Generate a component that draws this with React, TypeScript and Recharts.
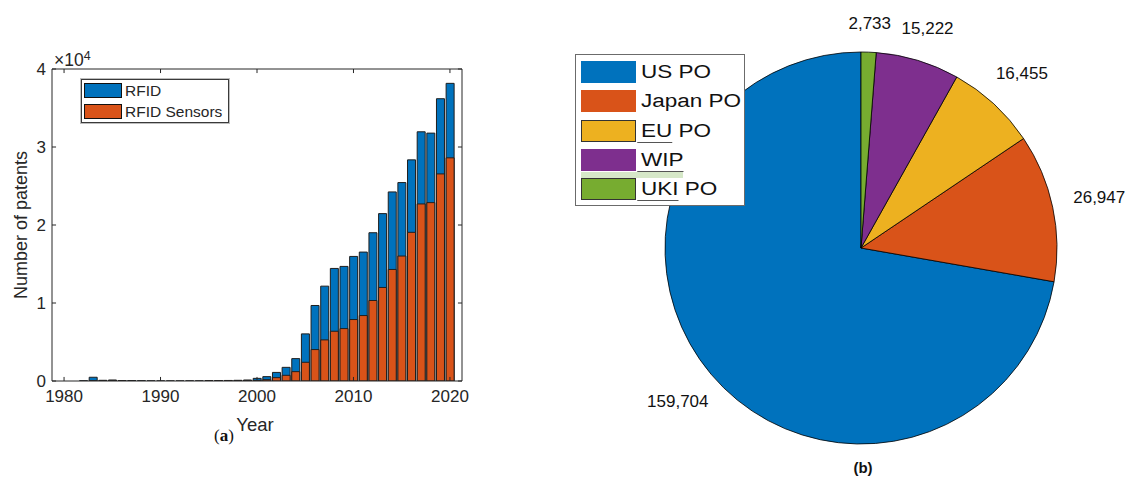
import React from 'react';
import { BarChart, Bar, XAxis, YAxis, Legend, Label, ReferenceLine, PieChart, Pie, Cell } from 'recharts';

const FONT = '"Liberation Sans", Arial, Helvetica, sans-serif';

// (a) yearly patent counts
const years = [
  1980, 1981, 1982, 1983, 1984, 1985, 1986, 1987, 1988, 1989,
  1990, 1991, 1992, 1993, 1994, 1995, 1996, 1997, 1998, 1999,
  2000, 2001, 2002, 2003, 2004, 2005, 2006, 2007, 2008, 2009,
  2010, 2011, 2012, 2013, 2014, 2015, 2016, 2017, 2018, 2019, 2020,
];
const rfid = [
  0, 0, 30, 480, 90, 130, 60, 50, 40, 20,
  10, 10, 10, 20, 20, 40, 60, 70, 90, 130,
  340, 560, 1100, 1750, 2870, 6040, 9680, 12160, 14430, 14690,
  15970, 16530, 19010, 21460, 24240, 25440, 28350, 31950, 31780, 36190, 38160,
];
const rfidSensors = [
  0, 0, 0, 20, 10, 20, 10, 10, 0, 0,
  0, 0, 0, 0, 0, 10, 10, 20, 20, 30,
  80, 170, 430, 730, 1200, 2400, 4030, 5270, 6380, 6720,
  7880, 8390, 10320, 11990, 14300, 16020, 19060, 22700, 22870, 26550, 28610,
];
const yearTicks = [1980, 1990, 2000, 2010, 2020];
const countTicks = [0, 10000, 20000, 30000, 40000];

// (b) patents per office
const offices = ['US PO', 'Japan PO', 'EU PO', 'WIP', 'UKI PO'];
const officePatents = [159704, 26947, 16455, 15222, 2733];
const officeColors = ['#0072BD', '#D95319', '#EDB120', '#7E2F8E', '#77AC30'];
const swatchBordered = [false, false, true, false, true];
const firstWordUnderlined = [false, false, true, true, true];

const barData = years.map((year, i) => ({ year, rfid: rfid[i], sensors: rfidSensors[i] }));
const pieData = offices.map((name, i) => ({ name, value: officePatents[i] }));

const X_MIN = 1978.75;
const X_MAX = 2021.25;
const Y_MIN = 0;
const Y_MAX = 40000;
// inward tick length (~4px) expressed in axis units
const TICK_X = 0.42;
const TICK_Y = 520;
const keepOrder = () => 0;
const AXIS = '#262626';

const BarLegend = ({ payload }: any) => (
  <div
    style={{
      width: 146,
      height: 42,
      border: '1px solid #3a3a3a',
      boxShadow: '0 0 0 1px #bdbdbd',
      background: '#fff',
      fontFamily: FONT,
      fontSize: 15.5,
      color: '#262626',
    }}
  >
    {(payload || []).map((p: any, i: number) => (
      <div key={i} style={{ display: 'flex', alignItems: 'center', height: 21 }}>
        <span
          style={{
            display: 'inline-block',
            width: 36,
            height: 13,
            background: p.color,
            border: '1px solid #111',
            marginLeft: 2,
            marginRight: 3,
          }}
        />
        <span>{p.value}</span>
      </div>
    ))}
  </div>
);

const PieLegend = ({ payload }: any) => (
  <div
    style={{
      position: 'relative',
      width: 168,
      height: 150,
      border: '1px solid #6b6b6b',
      background: '#fff',
      fontFamily: FONT,
      fontSize: 18,
      color: '#111',
    }}
  >
    {(payload || []).map((p: any, i: number) => {
      const top = 6 + i * 29.25;
      const words = String(p.value).split(' ');
      return (
        <React.Fragment key={i}>
          <div
            style={{
              position: 'absolute',
              left: 5,
              top,
              width: 55,
              height: 22,
              boxSizing: 'border-box',
              background: p.color,
              border: swatchBordered[i] ? '1px solid #333' : 'none',
            }}
          />
          {i === 3 && (
            <div style={{ position: 'absolute', left: 5, top: top + 23, width: 102, height: 6, background: '#d6e8c8' }} />
          )}
          <div
            style={{
              position: 'absolute',
              left: 65,
              top,
              height: 22,
              lineHeight: '22px',
              whiteSpace: 'nowrap',
              transform: 'scaleX(1.25)',
              transformOrigin: 'left center',
            }}
          >
            {firstWordUnderlined[i] ? (
              <>
                <span
                  style={{
                    display: 'inline-block',
                    marginLeft: -3,
                    paddingLeft: 3,
                    borderBottom: '1.5px solid #555',
                    lineHeight: '21px',
                  }}
                >
                  {words[0]}
                </span>
                {words.length > 1 ? ' ' + words.slice(1).join(' ') : ''}
              </>
            ) : (
              p.value
            )}
          </div>
        </React.Fragment>
      );
    })}
  </div>
);

const renderPieLabel = (props: any) => {
  const { cx, cy, midAngle, outerRadius, value } = props;
  const rad = (-midAngle * Math.PI) / 180;
  const r = outerRadius + 28 + 20 * Math.abs(Math.cos(rad));
  const x = cx + r * Math.cos(rad);
  const y = cy + r * Math.sin(rad);
  return (
    <text x={x} y={y} textAnchor="middle" dominantBaseline="central" fontFamily={FONT} fontSize={17} fill="#111">
      {Number(value).toLocaleString('en-US')}
    </text>
  );
};

const axisText = { fontSize: 17, fill: AXIS, fontFamily: FONT };

export default function App() {
  return (
    <div style={{ position: 'absolute', left: 0, top: 0, width: 1126, height: 479, background: '#fff' }}>
      <div style={{ position: 'absolute', left: 0, top: 0 }}>
        <BarChart
          width={480}
          height={479}
          data={barData}
          margin={{ top: 69, right: 18, bottom: 68, left: 12 }}
        >
          <XAxis
            xAxisId="x"
            dataKey="year"
            type="number"
            domain={[X_MIN, X_MAX]}
            ticks={yearTicks}
            allowDataOverflow
            height={30}
            tickLine={false}
            tickSize={0}
            tickMargin={9}
            axisLine={{ stroke: AXIS }}
            tick={axisText}
          >
            <Label
              content={(p: any) => {
                const vb = p.viewBox || {};
                return (
                  <text x={vb.x + vb.width / 2 - 2} y={vb.y + 50} textAnchor="middle" fontFamily={FONT} fontSize={18.5} fill={AXIS}>
                    Year
                  </text>
                );
              }}
            />
          </XAxis>
          <XAxis xAxisId="x2" dataKey="year" type="number" domain={[X_MIN, X_MAX]} allowDataOverflow hide />
          <YAxis
            yAxisId="y"
            type="number"
            domain={[Y_MIN, Y_MAX]}
            ticks={countTicks}
            allowDataOverflow
            width={40}
            tickLine={false}
            tickSize={0}
            tickMargin={6}
            axisLine={{ stroke: AXIS }}
            tick={axisText}
            tickFormatter={(v: number) => String(v / 10000)}
          >
            <Label
              content={(p: any) => {
                const vb = p.viewBox || {};
                const lx = vb.x + 9;
                const ly = vb.y + vb.height / 2;
                return (
                  <g>
                    <text
                      x={lx}
                      y={ly}
                      transform={`rotate(-90 ${lx} ${ly})`}
                      textAnchor="middle"
                      dominantBaseline="central"
                      fontFamily={FONT}
                      fontSize={18}
                      fill={AXIS}
                    >
                      Number of patents
                    </text>
                    <text x={vb.x + vb.width + 2} y={vb.y - 3} fontFamily={FONT} fontSize={17.5} fill={AXIS}>
                      ×10
                      <tspan dy={-6} fontSize={12.5}>
                        4
                      </tspan>
                    </text>
                  </g>
                );
              }}
            />
          </YAxis>

          {/* box: top and right edges */}
          <ReferenceLine xAxisId="x" yAxisId="y" y={Y_MAX} stroke={AXIS} />
          <ReferenceLine xAxisId="x" yAxisId="y" x={X_MAX} stroke={AXIS} />
          {/* inward tick marks on all four sides */}
          {yearTicks.map((t) => (
            <ReferenceLine
              key={`xb${t}`}
              xAxisId="x"
              yAxisId="y"
              segment={[{ x: t, y: Y_MIN }, { x: t, y: Y_MIN + TICK_Y }]}
              stroke={AXIS}
            />
          ))}
          {yearTicks.map((t) => (
            <ReferenceLine
              key={`xt${t}`}
              xAxisId="x"
              yAxisId="y"
              segment={[{ x: t, y: Y_MAX }, { x: t, y: Y_MAX - TICK_Y }]}
              stroke={AXIS}
            />
          ))}
          {countTicks.map((t) => (
            <ReferenceLine
              key={`yl${t}`}
              xAxisId="x"
              yAxisId="y"
              segment={[{ x: X_MIN, y: t }, { x: X_MIN + TICK_X, y: t }]}
              stroke={AXIS}
            />
          ))}
          {countTicks.map((t) => (
            <ReferenceLine
              key={`yr${t}`}
              xAxisId="x"
              yAxisId="y"
              segment={[{ x: X_MAX, y: t }, { x: X_MAX - TICK_X, y: t }]}
              stroke={AXIS}
            />
          ))}

          <Legend
            layout="vertical"
            verticalAlign="middle"
            align="center"
            itemSorter={keepOrder}
            content={<BarLegend />}
            wrapperStyle={{ left: 81, top: 79, width: 'auto', height: 'auto' }}
          />
          <Bar
            xAxisId="x"
            yAxisId="y"
            dataKey="rfid"
            name="RFID"
            fill="#0072BD"
            stroke="#1f1f1f"
            strokeWidth={1}
            barSize={8}
            isAnimationActive={false}
          />
          <Bar
            xAxisId="x2"
            yAxisId="y"
            dataKey="sensors"
            name="RFID Sensors"
            fill="#D95319"
            stroke="#1f1f1f"
            strokeWidth={1}
            barSize={8}
            isAnimationActive={false}
          />
        </BarChart>
      </div>

      <div
        style={{
          position: 'absolute',
          left: 124,
          top: 426,
          width: 200,
          textAlign: 'center',
          fontFamily: '"Liberation Serif", "DejaVu Serif", serif',
          fontSize: 17,
          lineHeight: '20px',
          color: '#111',
        }}
      >
        (<b>a</b>)
      </div>

      <div style={{ position: 'absolute', left: 560, top: 0 }}>
        <PieChart width={566} height={479} margin={{ top: 0, right: 0, bottom: 0, left: 0 }}>
          <Pie
            data={pieData}
            dataKey="value"
            nameKey="name"
            cx={301}
            cy={248}
            outerRadius={196}
            startAngle={90}
            endAngle={450}
            stroke="#000"
            strokeWidth={0.8}
            label={renderPieLabel}
            labelLine={false}
            isAnimationActive={false}
          >
            {pieData.map((d, i) => (
              <Cell key={d.name} fill={officeColors[i]} />
            ))}
          </Pie>
          <Legend
            layout="vertical"
            verticalAlign="middle"
            align="center"
            itemSorter={keepOrder}
            content={<PieLegend />}
            wrapperStyle={{ left: 15, top: 54, width: 'auto', height: 'auto' }}
          />
        </PieChart>
      </div>

      <div
        style={{
          position: 'absolute',
          left: 763,
          top: 458,
          width: 200,
          textAlign: 'center',
          fontFamily: FONT,
          fontWeight: 'bold',
          fontSize: 15,
          lineHeight: '20px',
          color: '#111',
        }}
      >
        (b)
      </div>
    </div>
  );
}
